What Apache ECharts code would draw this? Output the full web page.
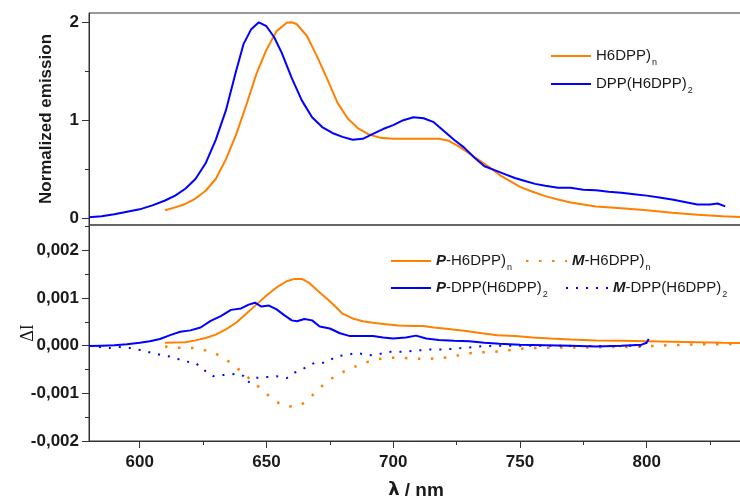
<!DOCTYPE html>
<html>
<head>
<meta charset="utf-8">
<script src="https://cdn.jsdelivr.net/npm/echarts@6/dist/echarts.min.js"></script>
<style>
  html, body { margin: 0; padding: 0; background: #fff; }
  #chart { width: 740px; height: 502px; }
</style>
</head>
<body>
<div id="chart"></div>
<script>
// ---- Emission spectra (upper panel), normalized ----
const emPolyNm = [610, 614, 618, 622, 626, 630, 634, 638, 642, 646, 650, 654, 658, 660, 662, 666, 670, 674, 678, 682, 686, 690, 695, 700, 710, 718, 722, 726, 730, 734, 738, 742, 746, 750, 755, 760, 765, 770, 775, 780, 790, 800, 810, 820, 830, 838];
const emPolyVal = [0.08, 0.11, 0.145, 0.20, 0.28, 0.40, 0.60, 0.85, 1.15, 1.47, 1.72, 1.91, 1.995, 2.0, 1.98, 1.86, 1.65, 1.42, 1.18, 1.02, 0.92, 0.86, 0.82, 0.81, 0.81, 0.81, 0.79, 0.73, 0.66, 0.59, 0.52, 0.44, 0.38, 0.32, 0.27, 0.225, 0.19, 0.16, 0.14, 0.12, 0.10, 0.08, 0.055, 0.035, 0.02, 0.01];

const emTrimerNm = [580, 585, 590, 595, 600, 605, 610, 614, 618, 622, 626, 630, 634, 638, 641, 644, 647, 650, 653, 656, 660, 664, 668, 672, 676, 680, 684, 688, 692, 696, 700, 704, 708, 712, 716, 720, 724, 728, 732, 736, 740, 744, 748, 752, 756, 760, 765, 770, 775, 780, 785, 790, 795, 800, 805, 810, 815, 820, 825, 828, 831];
const emTrimerVal = [0.01, 0.02, 0.04, 0.065, 0.09, 0.13, 0.18, 0.23, 0.30, 0.40, 0.56, 0.80, 1.10, 1.50, 1.78, 1.93, 2.0, 1.96, 1.85, 1.69, 1.43, 1.20, 1.03, 0.93, 0.87, 0.83, 0.80, 0.81, 0.86, 0.91, 0.95, 1.00, 1.03, 1.02, 0.98, 0.89, 0.80, 0.72, 0.62, 0.53, 0.49, 0.45, 0.41, 0.38, 0.35, 0.33, 0.31, 0.31, 0.29, 0.285, 0.27, 0.26, 0.245, 0.23, 0.21, 0.19, 0.165, 0.14, 0.14, 0.15, 0.12];

// ---- CPL difference spectra (lower panel), in units of 10^-3 ----
const dPolyPNm = [610, 614, 618, 622, 626, 630, 634, 638, 642, 646, 650, 654, 658, 661, 664, 667, 670, 674, 677, 680, 684, 688, 692, 697, 702, 708, 712, 716, 720, 728, 735, 741, 748, 755, 762, 770, 780, 790, 800, 810, 820, 830, 838];
const dPolyPVal = [0.06, 0.065, 0.07, 0.11, 0.16, 0.23, 0.34, 0.48, 0.67, 0.86, 1.05, 1.22, 1.35, 1.40, 1.40, 1.31, 1.16, 0.98, 0.83, 0.67, 0.57, 0.51, 0.48, 0.45, 0.42, 0.41, 0.41, 0.38, 0.36, 0.31, 0.26, 0.22, 0.20, 0.17, 0.15, 0.13, 0.11, 0.10, 0.09, 0.08, 0.07, 0.06, 0.057];

const dPolyMNm = [610, 614, 618, 622, 626, 630, 634, 638, 642, 646, 650, 654, 657, 661, 664, 667, 670, 674, 678, 682, 686, 690, 694, 698, 702, 708, 713, 718, 723, 728, 734, 740, 744, 749, 754, 764, 775, 785, 795, 805, 815, 825, 838];
const dPolyMVal = [-0.02, -0.04, -0.05, -0.05, -0.10, -0.17, -0.29, -0.45, -0.63, -0.82, -1.01, -1.18, -1.26, -1.28, -1.23, -1.10, -0.95, -0.74, -0.62, -0.50, -0.42, -0.34, -0.28, -0.26, -0.25, -0.27, -0.28, -0.26, -0.24, -0.17, -0.14, -0.13, -0.11, -0.07, -0.05, -0.04, -0.04, -0.03, -0.03, 0.0, 0.02, 0.03, 0.035];

const dTrimerPNm = [580, 585, 590, 595, 600, 604, 608, 612, 616, 620, 624, 628, 632, 636, 640, 643, 645.5, 648, 651, 654, 657, 660, 662, 665, 668, 671, 675, 679, 683, 688, 692, 696, 700, 705, 709, 713, 718, 724, 730, 736, 742, 750, 760, 770, 780, 790, 798, 800, 800.8];
const dTrimerPVal = [-0.01, 0.0, 0.01, 0.03, 0.06, 0.09, 0.14, 0.22, 0.29, 0.32, 0.38, 0.52, 0.62, 0.75, 0.78, 0.86, 0.90, 0.82, 0.84, 0.76, 0.64, 0.53, 0.51, 0.56, 0.53, 0.40, 0.36, 0.26, 0.20, 0.20, 0.20, 0.17, 0.15, 0.17, 0.21, 0.15, 0.12, 0.10, 0.09, 0.06, 0.04, 0.02, 0.01, 0.0, -0.02, 0.0, 0.02, 0.06, 0.14];

const dTrimerMNm = [580, 584, 588, 592, 596, 601, 606, 612, 618, 622, 625, 629, 634, 639, 641, 642.7, 644.7, 650, 654, 658, 661, 665, 669, 673, 678, 682, 686, 690, 695, 699, 704, 710, 715, 720, 725, 731, 735, 745, 760, 780, 800];
const dTrimerMVal = [0.0, -0.03, -0.05, -0.03, -0.05, -0.10, -0.17, -0.23, -0.33, -0.36, -0.50, -0.64, -0.61, -0.59, -0.64, -0.78, -0.68, -0.66, -0.64, -0.68, -0.57, -0.47, -0.36, -0.36, -0.22, -0.19, -0.15, -0.21, -0.17, -0.13, -0.13, -0.10, -0.08, -0.08, -0.06, -0.035, -0.01, 0.0, 0.0, -0.01, 0.0];

// ---- Axis ticks ----
const xTicks = [600, 650, 700, 750, 800];
const xMinorTicks = [625, 675, 725, 775, 825];
const emTicks = [0, 1, 2];
const emMinorTicks = [0.5, 1.5];
const dTicks = [-0.002, -0.001, 0, 0.001, 0.002];
const dMinorTicks = [-0.0015, -0.0005, 0.0005, 0.0015, 0.0025];

const SANS = '"Liberation Sans", Arial, sans-serif';
const SERIF = '"Liberation Serif", "Times New Roman", serif';
const AXIS = '#333';
const INK = '#1a1a1a';
const ORANGE = '#ff8000';
const BLUE = '#0000ff';

const pairs = (xs, ys, k) => xs.map((x, i) => [x, ys[i] * k]);

const legendText = {
  'H6DPP)n': '{t|H6DPP)}{s|n}',
  'DPP(H6DPP)2': '{t|DPP(H6DPP)}{s|2}',
  'P-H6DPP)n': '{i|P}{t|-H6DPP)}{s|n}',
  'M-H6DPP)n': '{i|M}{t|-H6DPP)}{s|n}',
  'P-DPP(H6DPP)2': '{i|P}{t|-DPP(H6DPP)}{s|2}',
  'M-DPP(H6DPP)2': '{i|M}{t|-DPP(H6DPP)}{s|2}'
};
const legendRich = {
  t: { fontFamily: SANS, fontSize: 15, color: INK },
  i: { fontFamily: SANS, fontSize: 15, color: INK, fontStyle: 'italic', fontWeight: 'bold' },
  s: { fontFamily: SANS, fontSize: 9, color: INK, verticalAlign: 'bottom', padding: [14, 0, 0, 1] }
};
// one legend box per entry, so each sits where it belongs; the line icon carries no marker
function legendAt(name, left, centerY, width) {
  return {
    data: [name], left: left, top: centerY - 6.5, padding: 0,
    itemWidth: width, itemHeight: 14, selectedMode: false,
    itemStyle: { opacity: 0 },
    formatter: n => legendText[n],
    textStyle: { rich: legendRich }
  };
}

const fmtComma = v => (v < 0 ? '-' : '') + Math.abs(v).toFixed(3).replace('.', ',');

const tickLabel = { fontFamily: SANS, fontSize: 17, fontWeight: 'bold', color: INK };
const noLine = { show: false, onZero: false };

const chart = echarts.init(document.getElementById('chart'), null, { renderer: 'canvas' });
chart.setOption({
  animation: false,
  backgroundColor: '#fff',
  grid: [
    { left: 89, top: 13, width: 654, height: 212, show: true, borderColor: AXIS, borderWidth: 1, outerBoundsMode: 'none', containLabel: false },
    { left: 89, top: 225, width: 654, height: 216, show: true, borderColor: AXIS, borderWidth: 1, outerBoundsMode: 'none', containLabel: false }
  ],
  xAxis: [
    { gridIndex: 0, type: 'value', min: 580, max: 838, position: 'bottom',
      axisLine: noLine, axisTick: { show: false }, axisLabel: { show: false }, splitLine: { show: false } },
    { gridIndex: 1, type: 'value', min: 580, max: 838, position: 'bottom',
      axisLine: { show: true, onZero: false, lineStyle: { color: AXIS } },
      axisTick: { show: true, length: 7, customValues: xTicks, lineStyle: { color: AXIS } },
      axisLabel: Object.assign({ customValues: xTicks, margin: 13 }, tickLabel),
      splitLine: { show: false },
      name: '{l|λ}{u| / nm}', nameLocation: 'middle', nameGap: 40, nameMoveOverlap: false,
      nameTextStyle: { rich: {
        l: { fontFamily: 'DejaVu Sans', fontSize: 18, fontWeight: 'bold', color: INK },
        u: { fontFamily: SANS, fontSize: 19, fontWeight: 'bold', color: INK }
      } } },
    { gridIndex: 1, type: 'value', min: 580, max: 838, position: 'bottom',
      axisLine: noLine,
      axisTick: { show: true, length: 4, customValues: xMinorTicks, lineStyle: { color: AXIS } },
      axisLabel: { show: false }, splitLine: { show: false } }
  ],
  yAxis: [
    { gridIndex: 0, type: 'value', min: -0.07, max: 2.095, position: 'left',
      axisLine: { show: true, onZero: false, lineStyle: { color: AXIS } },
      axisTick: { show: true, length: 7, customValues: emTicks, lineStyle: { color: AXIS } },
      axisLabel: Object.assign({ customValues: emTicks, margin: 10 }, tickLabel),
      splitLine: { show: false },
      name: 'Normalized emission', nameLocation: 'middle', nameGap: 34, nameRotate: 90, nameMoveOverlap: false,
      nameTextStyle: { fontFamily: SANS, fontSize: 17, fontWeight: 'bold', color: INK } },
    { gridIndex: 0, type: 'value', min: -0.07, max: 2.095, position: 'left',
      axisLine: noLine,
      axisTick: { show: true, length: 4, customValues: emMinorTicks, lineStyle: { color: AXIS } },
      axisLabel: { show: false }, splitLine: { show: false } },
    { gridIndex: 1, type: 'value', min: -0.002, max: 0.00253, position: 'left',
      axisLine: { show: true, onZero: false, lineStyle: { color: AXIS } },
      axisTick: { show: true, length: 7, customValues: dTicks, lineStyle: { color: AXIS } },
      axisLabel: Object.assign({ customValues: dTicks, margin: 10, formatter: fmtComma }, tickLabel),
      splitLine: { show: false },
      name: 'ΔI', nameLocation: 'middle', nameGap: 52, nameRotate: 90, nameMoveOverlap: false,
      nameTextStyle: { fontFamily: SERIF, fontSize: 18, color: INK } },
    { gridIndex: 1, type: 'value', min: -0.002, max: 0.00253, position: 'left',
      axisLine: noLine,
      axisTick: { show: true, length: 4, customValues: dMinorTicks, lineStyle: { color: AXIS } },
      axisLabel: { show: false }, splitLine: { show: false } }
  ],
  legend: [
    legendAt('H6DPP)n', 550, 55, 40),
    legendAt('DPP(H6DPP)2', 550, 83, 40),
    legendAt('P-H6DPP)n', 390, 260, 40),
    legendAt('M-H6DPP)n', 525, 260, 41),
    legendAt('P-DPP(H6DPP)2', 390, 287, 40),
    legendAt('M-DPP(H6DPP)2', 565, 287, 42)
  ],
  series: [
    { name: 'H6DPP)n', type: 'line', xAxisIndex: 0, yAxisIndex: 0, showSymbol: false, symbol: 'none',
      data: pairs(emPolyNm, emPolyVal, 1), lineStyle: { color: ORANGE, width: 2 }, itemStyle: { color: ORANGE } },
    { name: 'DPP(H6DPP)2', type: 'line', xAxisIndex: 0, yAxisIndex: 0, showSymbol: false, symbol: 'none',
      data: pairs(emTrimerNm, emTrimerVal, 1), lineStyle: { color: BLUE, width: 2 }, itemStyle: { color: BLUE } },
    { name: 'P-H6DPP)n', type: 'line', xAxisIndex: 1, yAxisIndex: 2, showSymbol: false, symbol: 'none',
      data: pairs(dPolyPNm, dPolyPVal, 0.001), lineStyle: { color: ORANGE, width: 2 }, itemStyle: { color: ORANGE } },
    { name: 'M-H6DPP)n', type: 'line', xAxisIndex: 1, yAxisIndex: 2, showSymbol: false, symbol: 'none',
      data: pairs(dPolyMNm, dPolyMVal, 0.001), lineStyle: { color: ORANGE, width: 2.5, type: [2.5, 10.5], cap: 'butt' }, itemStyle: { color: ORANGE } },
    { name: 'P-DPP(H6DPP)2', type: 'line', xAxisIndex: 1, yAxisIndex: 2, showSymbol: false, symbol: 'none',
      data: pairs(dTrimerPNm, dTrimerPVal, 0.001), lineStyle: { color: BLUE, width: 2 }, itemStyle: { color: BLUE } },
    { name: 'M-DPP(H6DPP)2', type: 'line', xAxisIndex: 1, yAxisIndex: 2, showSymbol: false, symbol: 'none',
      data: pairs(dTrimerMNm, dTrimerMVal, 0.001), lineStyle: { color: BLUE, width: 2, type: [2, 8], cap: 'butt' }, itemStyle: { color: BLUE } }
  ]
});
</script>
</body>
</html>
